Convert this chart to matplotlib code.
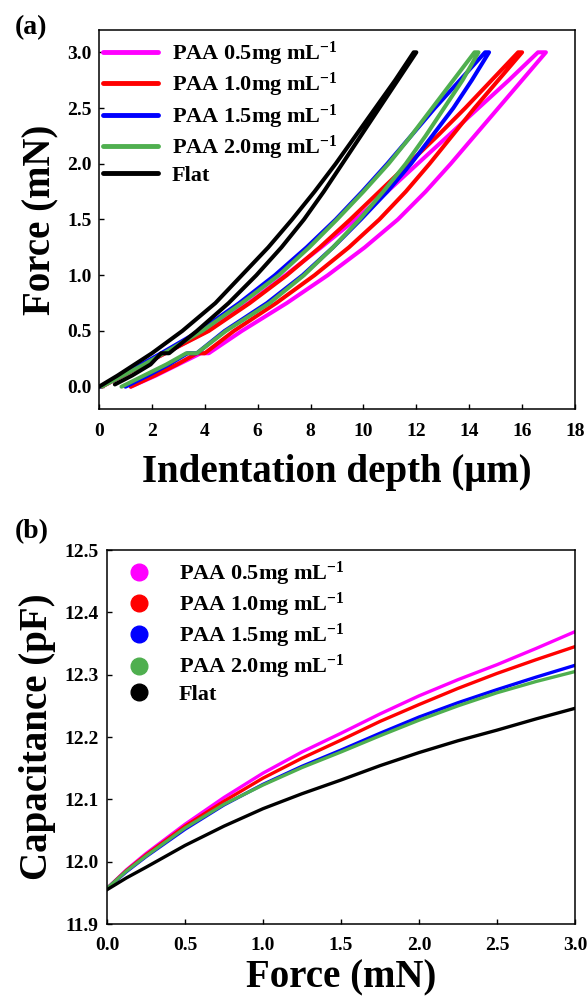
import matplotlib
matplotlib.use("Agg")
import matplotlib.pyplot as plt

plt.rcParams['font.family'] = ['Liberation Serif', 'DejaVu Serif']
plt.rcParams['font.weight'] = 'bold'
plt.rcParams['mathtext.fontset'] = 'custom'
plt.rcParams['mathtext.rm'] = 'Liberation Serif:bold'
plt.rcParams['mathtext.bf'] = 'Liberation Serif:bold'
plt.rcParams['mathtext.it'] = 'Liberation Serif:bold'
plt.rcParams['mathtext.default'] = 'rm'

labels = ["PAA 0.5mg mL$^{-1}$", "PAA 1.0mg mL$^{-1}$", "PAA 1.5mg mL$^{-1}$",
          "PAA 2.0mg mL$^{-1}$", "Flat"]
colors = ["#FF00FF", "#FF0000", "#0000FF", "#4FAF4F", "#000000"]

# ---- panel (a): force vs indentation depth (loop: loading branch then unloading branch)
fa_load = [0, 0.1, 0.2, 0.3, 0.3, 0.5, 0.75, 1.0, 1.25, 1.5, 1.75, 2.0, 2.25, 2.5, 2.75, 3.0]
fa_unl = [3.0, 2.75, 2.5, 2.25, 2.0, 1.75, 1.5, 1.25, 1.0, 0.75, 0.5, 0.3, 0.2, 0.1, 0]

da_load_05 = [1.2, 2.15, 3.0, 3.85, 4.15, 5.4, 7.1, 8.65, 10.05, 11.3, 12.35, 13.3, 14.2, 15.1, 16.0, 16.9]
da_unl_05 = [16.6, 15.5, 14.35, 13.2, 12.05, 10.9, 9.7, 8.4, 7.05, 5.65, 4.1, 2.5, 1.7, 0.9, 0.1]

da_load_10 = [1.2, 2.1, 2.95, 3.7, 4.0, 5.1, 6.7, 8.15, 9.45, 10.6, 11.6, 12.5, 13.35, 14.2, 15.1, 16.0]
da_unl_10 = [15.85, 14.85, 13.85, 12.8, 11.7, 10.6, 9.5, 8.35, 7.1, 5.7, 4.15, 2.5, 1.7, 0.9, 0.1]

da_load_15 = [1.0, 1.85, 2.65, 3.35, 3.7, 4.75, 6.35, 7.7, 8.85, 9.9, 10.9, 11.8, 12.6, 13.4, 14.1, 14.75]
da_unl_15 = [14.6, 13.65, 12.7, 11.8, 10.9, 9.95, 8.95, 7.85, 6.65, 5.3, 3.8, 2.35, 1.6, 0.85, 0.05]

da_load_20 = [0.85, 1.7, 2.55, 3.3, 3.7, 4.8, 6.45, 7.75, 8.85, 9.85, 10.75, 11.6, 12.35, 13.05, 13.75, 14.35]
da_unl_20 = [14.2, 13.4, 12.6, 11.8, 10.95, 10.0, 9.0, 7.95, 6.8, 5.4, 3.9, 2.45, 1.7, 0.9, 0.1]

fa_load_flat = [0.02, 0.1, 0.2, 0.3, 0.3, 0.5, 0.75, 1.0, 1.25, 1.5, 1.75, 2.0, 2.25, 2.5, 2.75, 3.0]
da_load_flat = [0.6, 1.25, 1.95, 2.35, 2.65, 3.7, 4.9, 5.95, 6.9, 7.75, 8.5, 9.2, 9.9, 10.6, 11.3, 12.0]
da_unl_flat = [11.9, 11.2, 10.45, 9.7, 8.95, 8.15, 7.3, 6.4, 5.4, 4.4, 3.15, 2.0, 1.35, 0.7, 0.0]

# ---- panel (b): capacitance vs force
fb = [0, 0.125, 0.25, 0.5, 0.75, 1.0, 1.25, 1.5, 1.75, 2.0, 2.25, 2.5, 2.75, 3.0]
cb_05 = [11.957, 11.987, 12.013, 12.060, 12.103, 12.142, 12.176, 12.206, 12.237, 12.266, 12.292, 12.316, 12.342, 12.369]
cb_10 = [11.957, 11.986, 12.011, 12.057, 12.097, 12.134, 12.166, 12.195, 12.225, 12.252, 12.278, 12.302, 12.324, 12.345]
cb_15 = [11.957, 11.984, 12.008, 12.052, 12.091, 12.124, 12.153, 12.179, 12.206, 12.232, 12.255, 12.276, 12.296, 12.315]
cb_20 = [11.957, 11.985, 12.009, 12.054, 12.092, 12.123, 12.151, 12.176, 12.202, 12.227, 12.250, 12.271, 12.289, 12.305]
cb_flat = [11.955, 11.974, 11.991, 12.026, 12.057, 12.085, 12.109, 12.131, 12.154, 12.175, 12.194, 12.211, 12.229, 12.246]

xticks_a = [0, 2, 4, 6, 8, 10, 12, 14, 16, 18]
yticks_a = [0.0, 0.5, 1.0, 1.5, 2.0, 2.5, 3.0]
xticks_b = [0.0, 0.5, 1.0, 1.5, 2.0, 2.5, 3.0]
yticks_b = [11.9, 12.0, 12.1, 12.2, 12.3, 12.4, 12.5]

fig = plt.figure(figsize=(5.88, 10.05), dpi=100)
axa = fig.add_axes([99/588, 1-409/1005, 476/588, 379/1005])
axb = fig.add_axes([107/588, 1-924/1005, 468/588, 374/1005])

loops = [(da_load_05, fa_load, da_unl_05, fa_unl),
         (da_load_10, fa_load, da_unl_10, fa_unl),
         (da_load_15, fa_load, da_unl_15, fa_unl),
         (da_load_20, fa_load, da_unl_20, fa_unl),
         (da_load_flat, fa_load_flat, da_unl_flat, fa_unl)]
for (dl, fl, du, fu), c, lab in zip(loops, colors, labels):
    axa.plot(list(dl) + list(du), list(fl) + list(fu), color=c, lw=2.9,
             solid_joinstyle='round', solid_capstyle='round', label=lab)

for cvals, c, lab in zip([cb_05, cb_10, cb_15, cb_20, cb_flat], colors, labels):
    axb.plot(fb, cvals, color=c, lw=2.4, solid_joinstyle='round', label=lab)

def style(ax, xpad, ypad):
    for s in ax.spines.values():
        s.set_linewidth(1.1)
    ax.tick_params(direction='in', length=3.5, width=1.0, labelsize=14,
                   top=False, right=False)
    ax.tick_params(axis='x', pad=xpad)
    ax.tick_params(axis='y', pad=ypad)
    for t in ax.get_xticklabels() + ax.get_yticklabels():
        t.set_fontweight('bold')

axa.set_xlim(0, 18)
axa.set_ylim(-0.2, 3.2)
axa.set_xticks(xticks_a)
axa.set_yticks(yticks_a)
axa.set_yticklabels([f"{v:.1f}" for v in yticks_a])
style(axa, 10, 5)
axa.set_xlabel("Indentation depth (μm)", fontsize=28, fontweight='bold', labelpad=10)
axa.set_ylabel("Force (mN)", fontsize=28, fontweight='bold', labelpad=6)

axb.set_xlim(0, 3.0)
axb.set_ylim(11.9, 12.5)
axb.set_xticks(xticks_b)
axb.set_yticks(yticks_b)
axb.set_xticklabels([f"{v:.1f}" for v in xticks_b])
axb.set_yticklabels([f"{v:.1f}" for v in yticks_b])
style(axb, 9, 6)
axb.set_xlabel("Force (mN)", fontsize=28, fontweight='bold', labelpad=4)
axb.set_ylabel("Capacitance (pF)", fontsize=28, fontweight='bold', labelpad=6)

la = axa.legend(loc='upper left', bbox_to_anchor=(0.008, 0.975), frameon=False,
                fontsize=16, handlelength=2.5, handletextpad=0.6, labelspacing=0.15,
                borderaxespad=0, borderpad=0)
for line in la.get_lines():
    line.set_linewidth(3.5)

handles_b = [plt.Line2D([], [], ls='none', marker='o', markersize=12, color=c) for c in colors]
lb = axb.legend(handles_b, labels, loc='upper left', bbox_to_anchor=(0.02, 0.975),
                frameon=False, fontsize=16, handlelength=2.0, handletextpad=0.8,
                labelspacing=0.14, borderaxespad=0, borderpad=0)

fig.text(15/588, 1-28/1005, "(a)", fontsize=20, fontweight='bold', va='center', ha='left')
fig.text(15/588, 1-532/1005, "(b)", fontsize=20, fontweight='bold', va='center', ha='left')

fig.savefig("out.png", dpi=100)
